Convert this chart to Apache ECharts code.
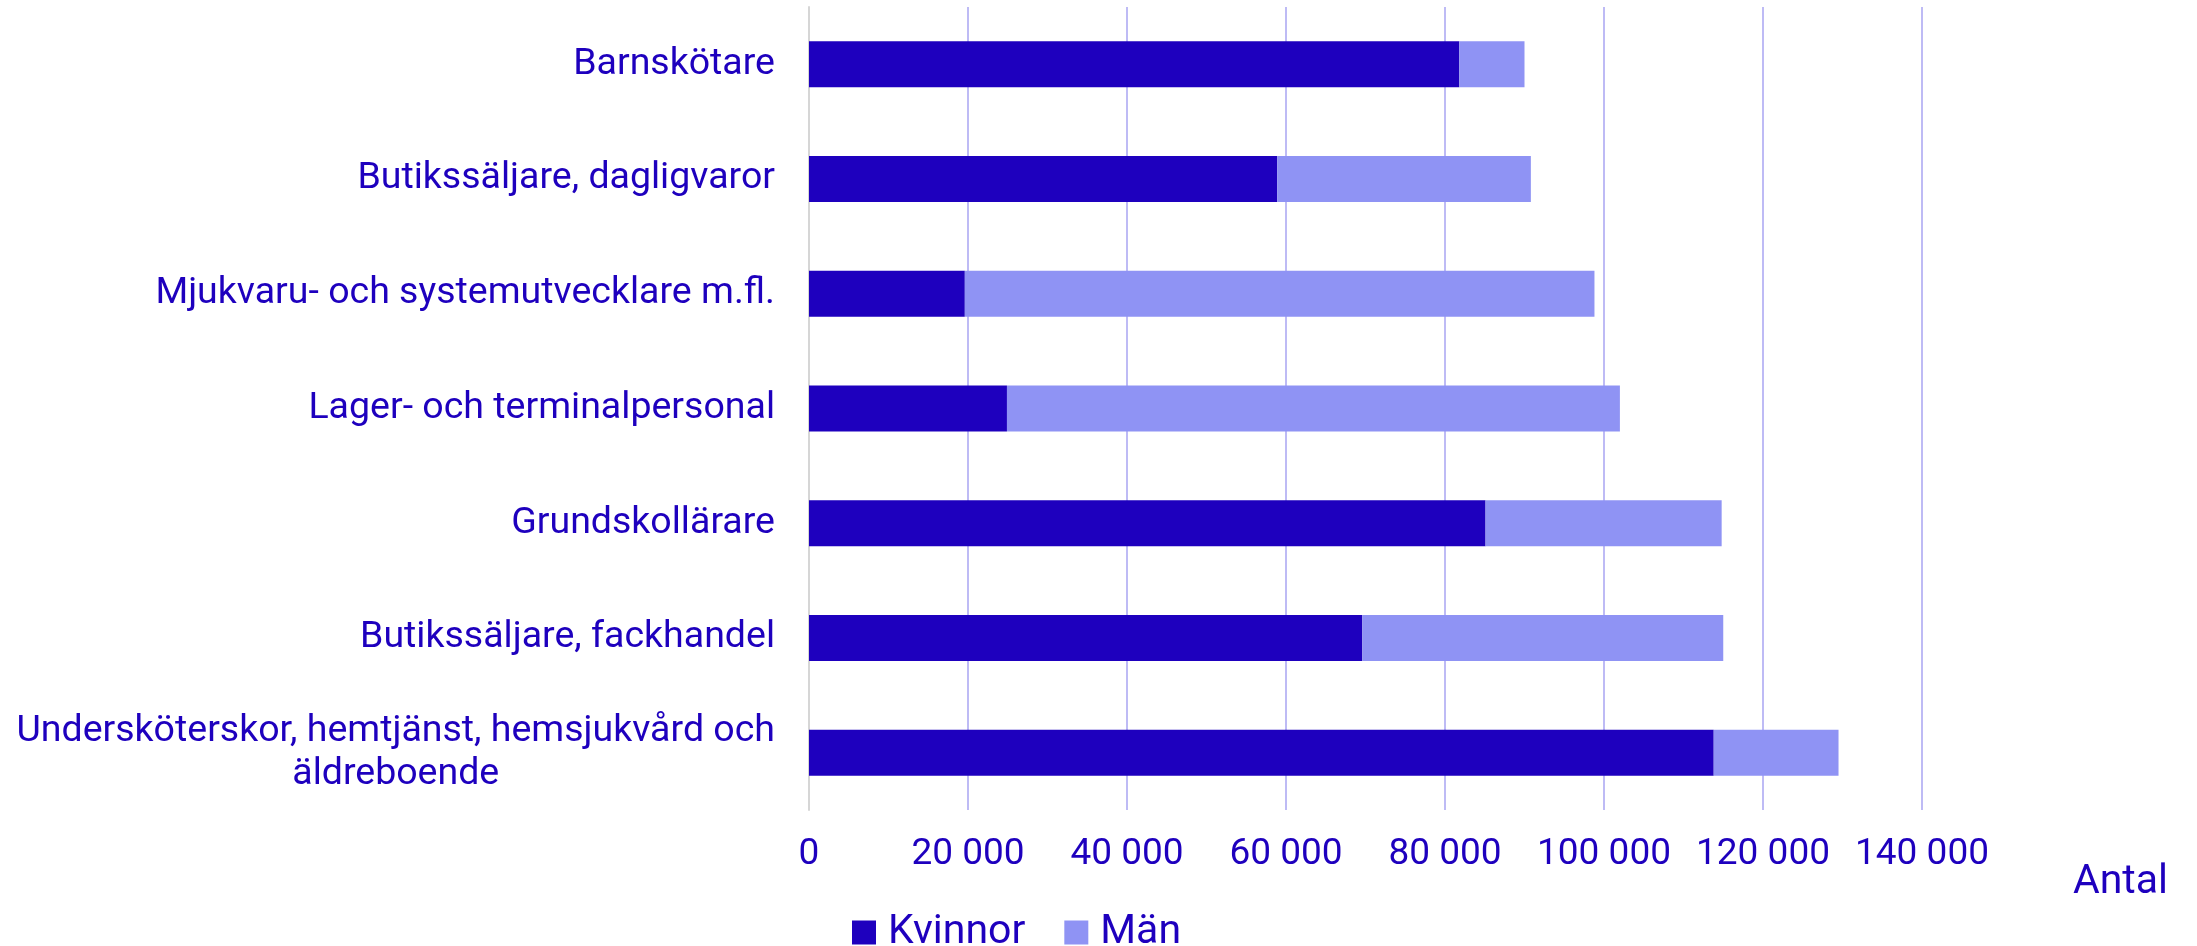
<!DOCTYPE html>
<html>
<head>
<meta charset="utf-8">
<script src="https://cdn.jsdelivr.net/npm/echarts@6/dist/echarts.min.js"></script>
<style>
  html, body { margin: 0; padding: 0; background: #ffffff; }
  #chart { width: 2197px; height: 946px; }
</style>
</head>
<body>
<div id="chart"></div>
<script>
const categories = [
  'Barnskötare',
  'Butikssäljare, dagligvaror',
  'Mjukvaru- och systemutvecklare m.fl.',
  'Lager- och terminalpersonal',
  'Grundskollärare',
  'Butikssäljare, fackhandel',
  'Undersköterskor, hemtjänst, hemsjukvård och\näldreboende'
];
const kvinnor = [81800, 58900, 19600, 24900, 85100, 69600, 113800];
const man = [8200, 31900, 79200, 77100, 29700, 45400, 15700];
const xTicks = [0, 20000, 40000, 60000, 80000, 100000, 120000, 140000];
const seriesNames = ['Kvinnor', 'Män'];
const axisTitle = 'Antal';

const DARK = '#1E00BE';
const LIGHT = '#8F93F4';
const FONT = 'Roboto';

const chart = echarts.init(document.getElementById('chart'), null, { renderer: 'canvas' });

chart.setOption({
  animation: false,
  backgroundColor: '#ffffff',
  textStyle: { fontFamily: FONT, color: DARK },
  grid: { left: 809, right: 275, top: 7, bottom: 136, containLabel: false },
  legend: {
    data: seriesNames,
    left: 852,
    top: 912,
    padding: 0,
    itemWidth: 24,
    itemHeight: 24,
    itemGap: 39,
    icon: 'rect',
    textStyle: { fontFamily: FONT, fontSize: 41, color: DARK, padding: [0, 0, 0, 7] }
  },
  xAxis: {
    type: 'value',
    min: xTicks[0],
    max: xTicks[xTicks.length - 1],
    interval: xTicks[1] - xTicks[0],
    axisLine: { show: false },
    axisTick: { show: false },
    axisLabel: {
      margin: 26,
      fontFamily: FONT,
      fontSize: 37,
      color: DARK,
      formatter: v => String(v).replace(/\B(?=(\d{3})+(?!\d))/g, ' ')
    },
    splitLine: { show: true, showMinLine: false, lineStyle: { color: '#A9A4F2', width: 1.5 } }
  },
  yAxis: {
    type: 'category',
    data: categories,
    inverse: true,
    axisLine: { show: true, lineStyle: { color: '#D6D6D6', width: 2 } },
    axisTick: { show: false },
    axisLabel: {
      margin: 34,
      fontFamily: FONT,
      fontSize: 37.5,
      color: DARK,
      formatter: v => '{c|' + v.split('\n').join('}\n{c|') + '}',
      rich: {
        c: { align: 'center', fontFamily: FONT, fontSize: 37.5, color: DARK, lineHeight: 43 }
      }
    },
    splitLine: { show: false }
  },
  series: [
    {
      name: seriesNames[0],
      type: 'bar',
      stack: 'total',
      barWidth: 46,
      itemStyle: { color: DARK },
      data: kvinnor
    },
    {
      name: seriesNames[1],
      type: 'bar',
      stack: 'total',
      barWidth: 46,
      itemStyle: { color: LIGHT },
      data: man
    }
  ],
  graphic: [
    {
      type: 'text',
      x: 2168,
      y: 883,
      style: {
        text: axisTitle,
        fontFamily: FONT,
        fontSize: 41,
        fill: DARK,
        textAlign: 'right',
        textVerticalAlign: 'middle'
      }
    }
  ]
});
</script>
</body>
</html>
